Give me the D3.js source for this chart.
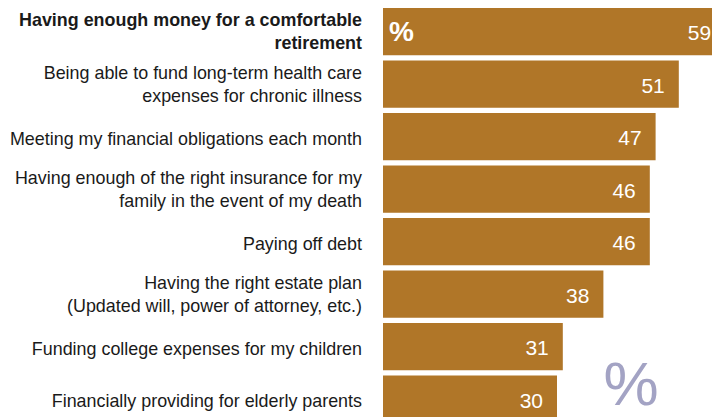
<!DOCTYPE html>
<html>
<head>
<meta charset="utf-8">
<script src="https://cdn.jsdelivr.net/npm/d3@7"></script>
<style>
  body { margin: 0; background: #fff; }
  svg { display: block; font-family: "Liberation Sans", Arial, sans-serif; }
</style>
</head>
<body>
<div id="chart"></div>
<script>
// categories (multi-line labels) and values in percent
var labels = [
    ["Having enough money for a comfortable", "retirement"],
    ["Being able to fund long-term health care", "expenses for chronic illness"],
    ["Meeting my financial obligations each month"],
    ["Having enough of the right insurance for my", "family in the event of my death"],
    ["Paying off debt"],
    ["Having the right estate plan", "(Updated will, power of attorney, etc.)"],
    ["Funding college expenses for my children"],
    ["Financially providing for elderly parents"]
];
var values = [59, 51, 47, 46, 46, 38, 31, 30];

var width = 712, height = 417,
    barLeft = 383,
    labelRight = 362,
    step = 52.5,
    barColor = "#b07628";

var svg = d3.select("#chart").append("svg")
    .attr("width", width)
    .attr("height", height);

var idx = d3.range(values.length);

var y = d3.scaleBand()
    .domain(idx)
    .range([8, 8 + step * (values.length - 0.1)])
    .paddingInner(0.1)
    .paddingOuter(0);

var x = d3.scaleLinear()
    .domain([0, 10])
    .range([barLeft, barLeft + 58]);

var rows = svg.selectAll("g.row")
    .data(idx)
    .enter().append("g")
    .attr("class", "row");

rows.append("rect")
    .attr("x", x(0))
    .attr("y", function(i) { return y(i); })
    .attr("width", function(i) { return x(values[i]) - x(0); })
    .attr("height", y.bandwidth())
    .style("fill", barColor);

rows.append("text")
    .attr("x", function(i) { return x(values[i]) - 14; })
    .attr("y", function(i) { return y(i) + y.bandwidth() / 2 + 1; })
    .attr("dy", "0.36em")
    .attr("text-anchor", "end")
    .style("fill", "#fff")
    .style("font-size", "21px")
    .text(function(i) { return values[i]; });

// left labels
rows.each(function(i) {
    var lines = labels[i];
    var cy = y(i) + y.bandwidth() / 2 + (lines.length === 1 ? 2 : 0);
    var lh = 23;
    var t = d3.select(this).append("text")
        .attr("text-anchor", "end")
        .style("font-size", "17.9px")
        .style("font-weight", i === 0 ? "bold" : "normal")
        .style("fill", "#1a1a1a");
    lines.forEach(function(line, k) {
        t.append("tspan")
            .attr("x", labelRight)
            .attr("y", cy + (k - (lines.length - 1) / 2) * lh)
            .attr("dy", "0.35em")
            .text(line);
    });
});

// unit marker on first bar
svg.append("text")
    .attr("x", barLeft + 6)
    .attr("y", y(0) + 33)
    .style("fill", "#fff")
    .style("font-size", "28px")
    .style("font-weight", "bold")
    .text("%");

// large faded percent sign
svg.append("text")
    .attr("x", 631)
    .attr("y", 405)
    .attr("text-anchor", "middle")
    .style("fill", "#a3a3c4")
    .style("font-size", "62px")
    .text("%");
</script>
</body>
</html>
